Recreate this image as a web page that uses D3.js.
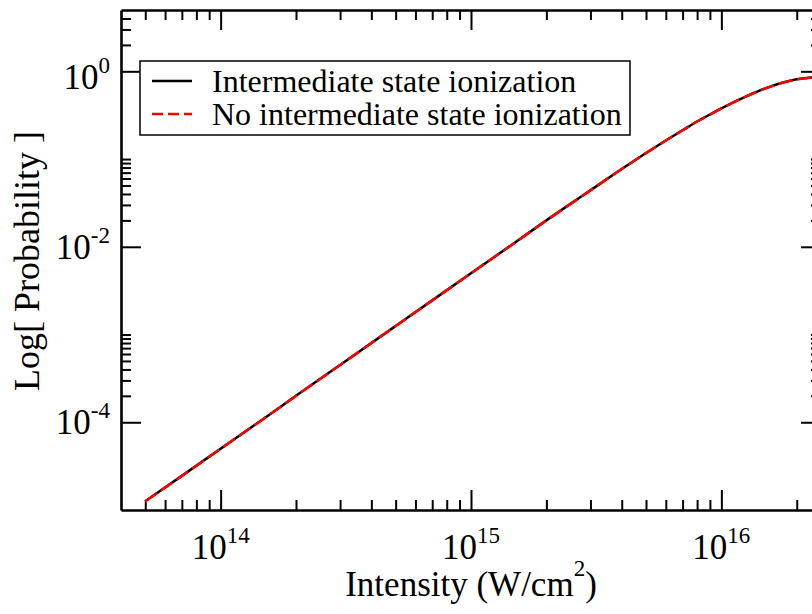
<!DOCTYPE html>
<html>
<head>
<meta charset="utf-8">
<script src="https://cdn.jsdelivr.net/npm/d3@7"></script>
<style>
  body { margin: 0; background: #fff; }
  svg { display: block; font-family: "Liberation Serif", "Times New Roman", serif; }
</style>
</head>
<body>
<div id="chart"></div>
<script>
// values
const intensity = [5e13, 7e13, 1e14, 1.5e14, 2e14, 3e14, 5e14, 7e14, 1e15, 1.5e15, 2e15, 3e15, 4e15,
  5e15, 6e15, 7e15, 8e15, 9e15, 1e16, 1.25e16, 1.5e16, 1.75e16, 2e16, 2.25e16, 2.5e16]
const probIntermediate = [1.26e-5, 2.45e-5, 5.0e-5, 1.12e-4, 2.0e-4, 4.5e-4, 1.25e-3, 2.45e-3, 5.0e-3, 1.12e-2, 2.0e-2, 4.4e-2, 7.7e-2,
  0.117, 0.163, 0.213, 0.268, 0.322, 0.378, 0.515, 0.64, 0.74, 0.81, 0.845, 0.86]
const probNoIntermediate = [1.26e-5, 2.45e-5, 5.0e-5, 1.12e-4, 2.0e-4, 4.5e-4, 1.25e-3, 2.45e-3, 5.0e-3, 1.12e-2, 2.0e-2, 4.4e-2, 7.7e-2,
  0.117, 0.163, 0.213, 0.268, 0.322, 0.378, 0.515, 0.64, 0.74, 0.81, 0.845, 0.86]
const seriesNames = ['Intermediate state ionization', 'No intermediate state ionization']

const xDomain = [4e13, 2.5e16]
const yDomain = [1e-5, 5]
const xMajorExp = [14, 15, 16]
const yMajorExp = [-4, -2, 0]
const xTitle = 'Intensity (W/cm'
const xTitleSup = '2'
const xTitleEnd = ')'
const yTitle = 'Log[ Probability ]'

var margin = {top: 10, left: 121},
    width = 700,
    height = 500

var svg = d3.select('#chart').append('svg')
    .attr('width', 812)
    .attr('height', 614)

var g = svg.append('g')
    .attr('transform', 'translate(' + margin.left + ',' + margin.top + ')')

var x = d3.scaleLog().domain(xDomain).range([0, width])
var y = d3.scaleLog().domain(yDomain).range([height, 0])

// tick positions
var xMajor = xMajorExp.map(e => Math.pow(10, e))
var xMinor = []
for (let k = 13; k <= 16; k++)
    for (let m = 2; m <= 9; m++) {
        let v = m * Math.pow(10, k)
        if (v > xDomain[0] && v < xDomain[1]) xMinor.push(v)
    }
var yMajor = yMajorExp.map(e => Math.pow(10, e))
var yMinor = []
// grace puts the minor ticks right after each (every second decade) major
for (let k = -6; k <= 0; k += 2)
    for (let m = 2; m <= 10; m++) {
        let v = m * Math.pow(10, k)
        if (v > yDomain[0] && v < yDomain[1]) yMinor.push(v)
    }

function drawAxis(axisFn, scale, major, minor, transform, inward) {
    let ax = g.append('g').attr('transform', transform)
    ax.call(axisFn(scale).tickValues(minor).tickSize(inward * 10).tickSizeOuter(0).tickFormat(''))
    ax.select('.domain').remove()
    let ax2 = g.append('g').attr('transform', transform)
    ax2.call(axisFn(scale).tickValues(major).tickSize(inward * 20).tickSizeOuter(0).tickFormat(''))
    ax2.select('.domain').attr('stroke-width', 2.6)
    g.selectAll('.tick line').attr('stroke-width', 2)
    return ax2
}

drawAxis(d3.axisBottom, x, xMajor, xMinor, 'translate(0,' + height + ')', -1)
drawAxis(d3.axisTop, x, xMajor, xMinor, 'translate(0,0)', -1)
drawAxis(d3.axisLeft, y, yMajor, yMinor, 'translate(0,0)', -1)
drawAxis(d3.axisRight, y, yMajor, yMinor, 'translate(' + width + ',0)', -1)

// tick labels with superscripts
var xl = g.append('g').selectAll('text').data(xMajorExp).join('text')
    .attr('x', d => x(Math.pow(10, d)))
    .attr('y', height + 49)
    .attr('text-anchor', 'middle')
    .style('font-size', '35px')
xl.append('tspan').text('10')
xl.append('tspan').attr('dy', -16).style('font-size', '23px').text(d => d)

var yl = g.append('g').selectAll('text').data(yMajorExp).join('text')
    .attr('x', -11)
    .attr('y', d => y(Math.pow(10, d)) + (d == 0 ? 18 : 12))
    .attr('text-anchor', 'end')
    .style('font-size', '35px')
yl.append('tspan').text('10')
yl.append('tspan').attr('dy', -16).style('font-size', '23px').text(d => d)

// axis titles
var xt = svg.append('text')
    .attr('x', margin.left + width / 2)
    .attr('y', 596)
    .attr('text-anchor', 'middle')
    .style('font-size', '35px')
xt.append('tspan').text(xTitle)
xt.append('tspan').attr('dy', -20).style('font-size', '23px').text(xTitleSup)
xt.append('tspan').attr('dy', 20).text(xTitleEnd)

svg.append('text')
    .attr('transform', 'translate(39,261) rotate(-90)')
    .attr('text-anchor', 'middle')
    .style('font-size', '36px')
    .text(yTitle)

// curves
g.append('clipPath').attr('id', 'clip')
    .append('rect').attr('width', width).attr('height', height)

var line1 = d3.line()
    .x((d, i) => x(intensity[i]))
    .y(d => y(d))
    .curve(d3.curveMonotoneX)

var curves = g.append('g').attr('clip-path', 'url(#clip)')
curves.append('path')
    .attr('d', line1(probIntermediate))
    .attr('fill', 'none')
    .attr('stroke', '#000')
    .attr('stroke-width', 2.5)
curves.append('path')
    .attr('d', line1(probNoIntermediate))
    .attr('fill', 'none')
    .attr('stroke', '#ff0000')
    .attr('stroke-width', 2.5)
    .attr('stroke-dasharray', '14,5')

// legend
var lg = svg.append('g').attr('transform', 'translate(140,61)')
lg.append('rect')
    .attr('width', 490)
    .attr('height', 74)
    .attr('fill', '#fff')
    .attr('stroke', '#000')
    .attr('stroke-width', 1.5)
var rows = lg.selectAll('g.row').data(seriesNames).join('g')
    .attr('class', 'row')
    .attr('transform', (d, i) => 'translate(0,' + (20 + i * 33) + ')')
rows.append('line')
    .attr('x1', 12).attr('x2', 52)
    .attr('stroke', (d, i) => i ? '#ff0000' : '#000')
    .attr('stroke-width', 2.5)
    .attr('stroke-dasharray', (d, i) => i ? '11,5' : null)
rows.append('text')
    .attr('x', 72)
    .attr('y', 11)
    .style('font-size', '32px')
    .text(d => d)
</script>
</body>
</html>
